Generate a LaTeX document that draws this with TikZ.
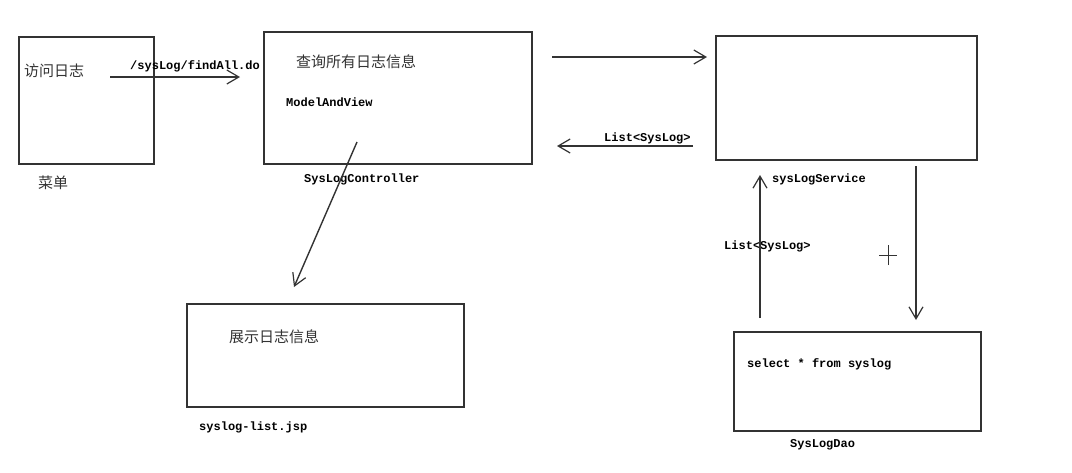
\documentclass[tikz,border=0pt]{standalone}
\usepackage{fontspec}
\setmonofont{Liberation Mono}
\newfontfamily\cjk{Noto Sans CJK SC}
\usetikzlibrary{arrows.meta}
\definecolor{ink}{HTML}{333333}
\tikzset{
  box/.style={draw=ink, line width=1.6pt, inner sep=0pt, anchor=north west},
  cjklab/.style={anchor=west, inner sep=0pt, font=\cjk\fontsize{15}{17}\selectfont, text=ink},
  codelab/.style={anchor=west, inner sep=0pt, font=\ttfamily\bfseries\fontsize{12}{14}\selectfont, text=black},
  conn/.style={draw=ink, line width=1.4pt, -{Straight Barb[length=12pt,width=14pt,line width=1.2pt]}},
}
\begin{document}
\begin{tikzpicture}[x=1pt,y=-1pt]
\useasboundingbox (0,0) rectangle (1072,472);
% boxes
\node[box, minimum width=135pt, minimum height=127pt] (menu) at (18,36) {};
\node[box, minimum width=268pt, minimum height=132pt] (ctrl) at (263,31) {};
\node[box, minimum width=261pt, minimum height=124pt] (svc) at (715,35) {};
\node[box, minimum width=277pt, minimum height=103pt] (jsp) at (186,303) {};
\node[box, minimum width=247pt, minimum height=99pt] (dao) at (733,331) {};
% texts
\node[cjklab] (t1) at (24,71) {访问日志};
\node[cjklab] (t2) at (38,183) {菜单};
\node[cjklab] (t3) at (296,62) {查询所有日志信息};
\node[cjklab] (t4) at (229,337) {展示日志信息};
\node[codelab] (c1) at (130,66) {/sysLog/findAll.do};
\node[codelab] (c2) at (286,102) {ModelAndView};
\node[codelab] (c3) at (304,179) {SysLogController};
\node[codelab] (c4) at (604,138) {List<SysLog>};
\node[codelab] (c5) at (772,179) {sysLogService};
\node[codelab] (c6) at (724,246) {List<SysLog>};
\node[codelab] (c7) at (199,427) {syslog-list.jsp};
\node[codelab] (c8) at (747,364) {select * from syslog};
\node[codelab] (c9) at (790,445) {SysLogDao};
% connector endpoints
\coordinate (a1s) at (110,77);  \coordinate (a1e) at (240,77);
\coordinate (a2s) at (552,57);  \coordinate (a2e) at (707,57);
\coordinate (a3s) at (693,146); \coordinate (a3e) at (557,146);
\coordinate (a4s) at (357,142); \coordinate (a4e) at (294,287);
\coordinate (a5s) at (760,318); \coordinate (a5e) at (760,175);
\coordinate (a6s) at (916,166); \coordinate (a6e) at (916,320);
\draw[conn] (a1s) -- (a1e);
\draw[conn] (a2s) -- (a2e);
\draw[conn] (a3s) -- (a3e);
\draw[conn] (a4s) -- (a4e);
\draw[conn] (a5s) -- (a5e);
\draw[conn] (a6s) -- (a6e);
% cursor mark
\coordinate (cur) at (888,255);
\draw[ink, line width=1pt] ([xshift=-9pt]cur) -- ([xshift=9pt]cur) ([yshift=-10pt]cur) -- ([yshift=10pt]cur);
\end{tikzpicture}
\end{document}
